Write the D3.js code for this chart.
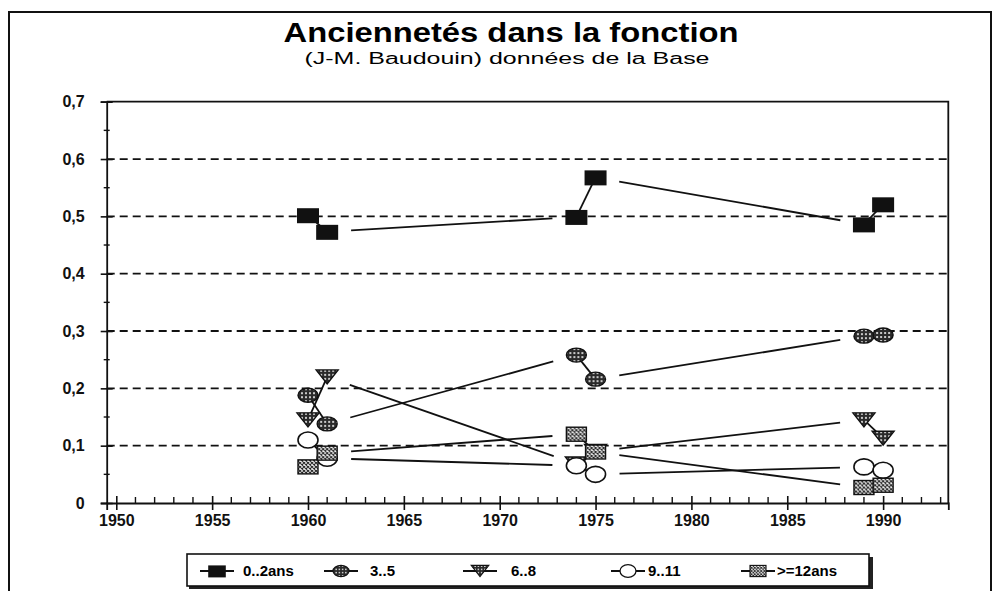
<!DOCTYPE html>
<html lang="fr">
<head>
    <meta charset="UTF-8">
    <title>Anciennetés dans la fonction</title>
    <script src="https://d3js.org/d3.v7.min.js"></script>
    <style>
        body { margin: 0; background: #fff; }
        svg { display: block; font-family: "Liberation Sans", Arial, sans-serif; }
    </style>
</head>
<body>
    <div id="chart"></div>
    <script>
        // data
        const years = [1960, 1961, 1974, 1975, 1989, 1990];
        const seriesNames = ['0..2ans', '3..5', '6..8', '9..11', '>=12ans'];
        const s02 = [0.502, 0.473, 0.499, 0.568, 0.486, 0.521];
        const s35 = [0.188, 0.138, 0.258, 0.216, 0.291, 0.293];
        const s68 = [0.145, 0.220, 0.068, 0.090, 0.145, 0.113];
        const s911 = [0.110, 0.078, 0.065, 0.050, 0.063, 0.057];
        const s12 = [0.063, 0.087, 0.120, 0.089, 0.027, 0.031];
        const yTicks = [0, 0.1, 0.2, 0.3, 0.4, 0.5, 0.6, 0.7];
        const xTicks = [1950, 1955, 1960, 1965, 1970, 1975, 1980, 1985, 1990];

        const seriesValues = [s02, s35, s68, s911, s12];
        const shapes = ['rect', 'ellipse', 'triangle', 'circle', 'hatch'];

        const width = 998, height = 591;
        const svg = d3.select('#chart').append('svg')
            .attr('width', width)
            .attr('height', height);

        // patterns for the marker fills
        const defs = svg.append('defs');
        const dots = defs.append('pattern')
            .attr('id', 'dots').attr('patternUnits', 'userSpaceOnUse')
            .attr('width', 4).attr('height', 4);
        dots.append('rect').attr('width', 4).attr('height', 4).attr('fill', '#2a2a2a');
        dots.append('circle').attr('cx', 2).attr('cy', 2).attr('r', 1).attr('fill', '#fff');

        const hatch = defs.append('pattern')
            .attr('id', 'hatch').attr('patternUnits', 'userSpaceOnUse')
            .attr('width', 4).attr('height', 4);
        hatch.append('rect').attr('width', 4).attr('height', 4).attr('fill', '#fff');
        hatch.append('path').attr('d', 'M0,0L4,4M4,0L0,4')
            .attr('stroke', '#222').attr('stroke-width', 1.1);

        // outer frame
        svg.append('rect')
            .attr('x', 9).attr('y', 12)
            .attr('width', 982).attr('height', 600)
            .attr('fill', 'none').attr('stroke', '#111').attr('stroke-width', 2);

        // titles (the scan is a bit wider than the font, hence textLength)
        svg.append('text')
            .attr('x', 511).attr('y', 42)
            .attr('text-anchor', 'middle')
            .attr('textLength', 455).attr('lengthAdjust', 'spacingAndGlyphs')
            .style('font-size', '27px').style('font-weight', 'bold')
            .text('Anciennetés dans la fonction');
        svg.append('text')
            .attr('x', 507).attr('y', 64)
            .attr('text-anchor', 'middle')
            .attr('textLength', 405).attr('lengthAdjust', 'spacingAndGlyphs')
            .style('font-size', '16px')
            .text('(J-M. Baudouin) données de la Base');

        const x = d3.scaleLinear().domain([1949.5, 1993.4]).range([106.7, 948.3]);
        const y = d3.scaleLinear().domain([0, 0.7]).range([503, 101.7]);

        // dashed grid
        svg.append('g')
            .selectAll('line')
            .data(yTicks.filter(v => v > 0 && v < 0.7))
            .enter().append('line')
            .attr('x1', x.range()[0]).attr('x2', x.range()[1])
            .attr('y1', d => y(d)).attr('y2', d => y(d))
            .attr('stroke', '#111').attr('stroke-width', 1.8)
            .attr('stroke-dasharray', '8,5');

        // plot frame: top and right sides
        svg.append('path')
            .attr('d', `M${x.range()[0]},${y(0.7)}H${x.range()[1]}V${y(0)}`)
            .attr('fill', 'none').attr('stroke', '#111').attr('stroke-width', 1.8);

        // y axis
        const yAxis = svg.append('g')
            .attr('transform', `translate(${x.range()[0]},0)`)
            .call(d3.axisLeft(y).tickValues(yTicks)
                .tickFormat(d => d === 0 ? '0' : d3.format('.1f')(d).replace('.', ','))
                .tickSize(6).tickPadding(16));
        yAxis.select('.domain').attr('stroke', '#111').attr('stroke-width', 1.8);
        yAxis.selectAll('.tick line').attr('x2', -6).attr('x1', 6)
            .attr('stroke', '#111').attr('stroke-width', 1.6);
        yAxis.selectAll('.tick text')
            .style('font-size', '16px').style('font-weight', 'bold').attr('fill', '#111');
        // minor y ticks
        yAxis.append('g').selectAll('line')
            .data(d3.range(0.05, 0.7, 0.1))
            .enter().append('line')
            .attr('x1', -3).attr('x2', 3)
            .attr('y1', d => y(d)).attr('y2', d => y(d))
            .attr('stroke', '#111').attr('stroke-width', 1.4);

        // x axis
        const xAxis = svg.append('g')
            .attr('transform', `translate(0,${y(0)})`)
            .call(d3.axisBottom(x).tickValues(xTicks)
                .tickFormat(d3.format('d'))
                .tickSize(7).tickPadding(5));
        xAxis.select('.domain').attr('stroke', '#111').attr('stroke-width', 1.8);
        xAxis.selectAll('.tick line').attr('y1', -7).attr('y2', 7)
            .attr('stroke', '#111').attr('stroke-width', 1.6);
        xAxis.selectAll('.tick text')
            .style('font-size', '16px').style('font-weight', 'bold').attr('fill', '#111');
        xAxis.append('g').selectAll('line')
            .data(d3.range(1950, 1994).filter(v => v % 5 !== 0))
            .enter().append('line')
            .attr('x1', d => x(d)).attr('x2', d => x(d))
            .attr('y1', -6).attr('y2', 0)
            .attr('stroke', '#111').attr('stroke-width', 1.4);

        // draws one marker centred on 0,0
        function marker(g, shape) {
            if (shape === 'rect') {
                g.append('rect').attr('x', -11).attr('y', -7).attr('width', 22).attr('height', 15)
                    .attr('fill', '#111');
            } else if (shape === 'ellipse') {
                g.append('ellipse').attr('rx', 10).attr('ry', 7)
                    .attr('fill', 'url(#dots)').attr('stroke', '#111').attr('stroke-width', 1.4);
            } else if (shape === 'triangle') {
                g.append('path').attr('d', 'M-11,-7H11L0,7Z')
                    .attr('fill', 'url(#dots)').attr('stroke', '#111').attr('stroke-width', 1.4);
            } else if (shape === 'circle') {
                g.append('ellipse').attr('rx', 10).attr('ry', 8)
                    .attr('fill', '#fff').attr('stroke', '#111').attr('stroke-width', 1.6);
            } else {
                g.append('rect').attr('x', -10).attr('y', -7).attr('width', 20).attr('height', 14)
                    .attr('fill', 'url(#hatch)').attr('stroke', '#111').attr('stroke-width', 1.4);
            }
        }

        // lines: long segments are cut short near the markers, as on the scan
        const trim = 24;
        seriesValues.forEach(function (vals) {
            const pts = years.map((yr, i) => [x(yr), y(vals[i])]);
            for (let i = 0; i < pts.length - 1; i++) {
                let [x1, y1] = pts[i], [x2, y2] = pts[i + 1];
                if (years[i + 1] - years[i] > 5) {
                    const len = Math.hypot(x2 - x1, y2 - y1);
                    const ux = (x2 - x1) / len, uy = (y2 - y1) / len;
                    x1 += ux * trim; y1 += uy * trim;
                    x2 -= ux * trim; y2 -= uy * trim;
                }
                svg.append('line')
                    .attr('x1', x1).attr('y1', y1).attr('x2', x2).attr('y2', y2)
                    .attr('stroke', '#111').attr('stroke-width', 1.8);
            }
        });

        seriesValues.forEach(function (vals, s) {
            svg.append('g').selectAll('g')
                .data(years.map((yr, i) => ({ yr: yr, v: vals[i] })))
                .enter().append('g')
                .attr('transform', d => `translate(${x(d.yr)},${y(d.v)})`)
                .each(function () { marker(d3.select(this), shapes[s]); });
        });

        // legend
        const legendMarkX = [217, 341, 480, 628, 758];
        const legendTextX = [243, 370, 511, 648, 777];
        const legend = svg.append('g');
        legend.append('rect')
            .attr('x', 189).attr('y', 557).attr('width', 684).attr('height', 32)
            .attr('fill', '#222');
        legend.append('rect')
            .attr('x', 187).attr('y', 554).attr('width', 682).attr('height', 32)
            .attr('fill', '#fff').attr('stroke', '#111').attr('stroke-width', 1.6);
        seriesNames.forEach(function (name, s) {
            const g = legend.append('g').attr('transform', `translate(${legendMarkX[s]},571)`);
            g.append('line').attr('x1', -17).attr('x2', 17)
                .attr('stroke', '#111').attr('stroke-width', 1.8);
            const m = g.append('g').attr('transform', 'scale(0.8)');
            marker(m, shapes[s]);
            legend.append('text')
                .attr('x', legendTextX[s]).attr('y', 576)
                .style('font-size', '15px').style('font-weight', 'bold')
                .text(name);
        });
    </script>
</body>
</html>
